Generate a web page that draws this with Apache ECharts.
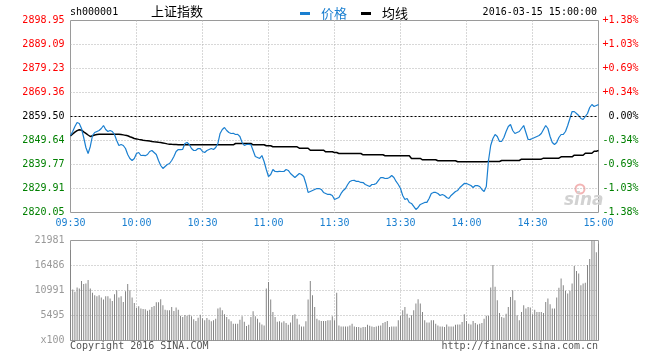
<!DOCTYPE html>
<html><head><meta charset="utf-8">
<script src="https://cdn.jsdelivr.net/npm/echarts@6/dist/echarts.min.js"></script>
<style>html,body{margin:0;padding:0;background:#fff}#c{width:660px;height:360px}</style>
</head><body><div id="c"></div>
<script>
const symbolCode = 'sh000001';
const indexName = '上证指数';
const stampText = '2016-03-15 15:00:00';
const copyrightText = 'Copyright 2016 SINA.COM';
const urlText = 'http://finance.sina.com.cn';
const prevClose = 2859.50;
const priceMin = 2820.05;
const priceMax = 2898.95;
const priceLabels = ['2898.95','2889.09','2879.23','2869.36','2859.50','2849.64','2839.77','2829.91','2820.05'];
const pctLabels = ['+1.38%','+1.03%','+0.69%','+0.34%','0.00%','-0.34%','-0.69%','-1.03%','-1.38%'];
const timeLabels = ['09:30','10:00','10:30','11:00','11:30','13:30','14:00','14:30','15:00'];
const volLabels = ['21981','16486','10991','5495','x100'];
const volMax = 21981;

const price = [
2851.69,2853.34,2855.39,2857.03,2856.62,2854.57,2850.87,2846.76,2844.30,2847.18,
2851.69,2852.93,2853.34,2853.75,2854.57,2855.80,2854.16,2853.34,2853.75,2853.34,
2852.10,2849.64,2847.59,2848.00,2847.59,2846.35,2843.89,2842.25,2841.42,2842.25,
2844.30,2844.71,2843.48,2843.52,2843.40,2843.89,2845.12,2845.53,2844.71,2843.89,
2841.42,2839.37,2838.14,2838.96,2839.78,2840.19,2841.42,2843.07,2845.12,2845.94,
2845.90,2846.02,2848.41,2848.82,2848.00,2846.35,2845.53,2845.60,2846.35,2846.30,
2845.12,2844.71,2845.53,2845.94,2846.35,2845.94,2846.76,2848.41,2852.52,2854.16,
2854.98,2853.75,2852.93,2852.52,2852.60,2852.10,2852.15,2851.28,2848.82,2847.59,
2848.00,2848.05,2847.95,2845.53,2843.07,2842.66,2842.25,2843.48,2841.01,2837.73,
2834.85,2835.67,2837.73,2836.91,2836.85,2836.95,2836.90,2836.91,2837.73,2837.32,
2836.08,2835.26,2834.44,2835.26,2836.08,2835.67,2834.85,2831.98,2828.28,2828.69,
2829.10,2829.51,2829.92,2829.90,2829.51,2828.28,2827.87,2827.46,2827.50,2827.05,
2825.40,
2825.81,2826.22,2827.87,2829.10,2829.92,2831.56,2832.80,2833.21,2833.25,2832.80,
2832.80,2832.39,2832.35,2831.56,2831.15,2830.74,2831.56,2831.60,2831.98,2833.21,
2834.44,2834.40,2834.03,2834.05,2834.44,2835.26,2834.44,2832.80,2831.56,2829.92,
2827.05,2825.40,2825.81,2824.17,2823.76,2822.53,2821.30,2822.12,2823.35,2823.76,
2824.17,2824.20,2825.81,2827.87,2828.28,2828.30,2827.87,2827.05,2827.46,2827.05,
2826.22,2825.81,2827.05,2827.87,2828.69,2829.10,2830.33,2831.15,2831.98,2831.95,
2831.56,2831.15,2830.33,2831.15,2831.10,2830.74,2829.51,2828.69,2830.74,2841.42,
2847.59,2850.46,2852.10,2851.28,2849.23,2849.30,2850.87,2853.34,2855.39,2856.21,
2853.75,2852.52,2852.93,2853.34,2854.57,2855.80,2852.93,2850.05,2850.10,2850.46,
2850.87,2851.28,2851.69,2852.52,2854.16,2855.80,2854.57,2851.28,2848.82,2848.00,
2848.82,2850.87,2852.10,2852.15,2853.34,2855.80,2858.68,2861.55,2861.50,2860.73,
2859.91,2858.68,2858.27,2859.50,2860.73,2863.20,2864.43,2863.61,2864.02,2864.37
];

const avg = [
2851.57,2852.30,2853.10,2853.70,2854.04,2853.90,2853.20,2852.60,2851.90,2851.28,
2851.57,2851.90,2852.10,2852.23,2852.23,2852.25,2852.25,2852.23,2852.23,2852.23,
2852.23,2852.23,2852.20,2852.10,2851.95,2851.75,2851.57,2851.20,2850.85,2850.46,
2850.30,2850.10,2849.95,2849.76,2849.65,2849.55,2849.40,2849.23,2849.10,2849.00,
2848.90,2848.82,2848.65,2848.45,2848.25,2848.12,2848.05,2848.00,2847.95,2847.90,
2847.87,2847.87,2847.87,2847.87,2847.87,2847.87,2847.87,2847.87,2847.87,2847.87,
2847.87,2847.87,2847.87,2847.87,2847.87,2847.87,2847.87,2847.87,2847.87,2847.87,
2847.87,2847.87,2847.87,2847.87,2847.87,2848.41,2848.41,2848.41,2848.41,2848.41,
2848.41,2848.41,2848.41,2847.87,2847.87,2847.87,2847.87,2847.87,2847.87,2847.46,
2847.46,2847.46,2847.05,2847.05,2847.05,2847.05,2847.05,2847.05,2847.05,2847.05,
2847.05,2847.05,2847.05,2847.05,2846.48,2846.48,2846.48,2846.48,2846.48,2845.65,
2845.65,2845.65,2845.65,2845.65,2845.65,2845.65,2845.00,2845.00,2845.00,2845.00,
2844.71,
2844.71,2844.30,2844.30,2844.30,2844.30,2844.30,2844.30,2844.30,2844.30,2844.30,
2844.30,2844.30,2843.77,2843.77,2843.77,2843.77,2843.77,2843.77,2843.77,2843.77,
2843.77,2843.77,2843.35,2843.35,2843.35,2843.35,2843.35,2843.35,2843.35,2843.35,
2843.35,2843.35,2843.35,2843.35,2842.25,2842.25,2842.25,2842.25,2842.25,2841.71,
2841.71,2841.71,2841.71,2841.71,2841.71,2841.71,2841.30,2841.30,2841.30,2841.30,
2841.30,2841.30,2841.30,2841.30,2841.30,2840.89,2840.89,2840.89,2840.89,2840.89,
2840.89,2840.89,2840.89,2840.89,2840.89,2840.89,2840.89,2840.89,2840.89,2841.01,
2841.01,2841.01,2841.01,2841.01,2841.01,2841.42,2841.42,2841.42,2841.42,2841.42,
2841.42,2841.42,2841.42,2841.42,2841.96,2841.96,2841.96,2841.96,2841.96,2841.96,
2841.96,2841.96,2841.96,2841.96,2842.37,2842.37,2842.37,2842.37,2842.37,2842.37,
2842.37,2842.37,2842.94,2842.94,2842.94,2842.94,2842.94,2842.94,2843.60,2843.60,
2843.60,2843.60,2843.60,2844.42,2844.42,2844.42,2844.42,2845.24,2845.24,2845.50
];

const volume = [
19915,11212,10695,11654,11433,13056,12392,12539,13277,11433,
10474,9958,9736,9958,9441,8999,9736,9736,9220,8704,
10179,11064,9441,9736,8483,10843,12392,11064,9441,8261,
7155,7524,7007,6933,6860,6565,6786,7376,7597,8409,
8409,9072,7745,6786,6638,6638,7376,6491,7228,6786,
5458,5163,5606,5458,5680,5311,4647,4278,5016,5680,
4868,4426,4942,4573,4204,4426,4794,7007,7228,6638,
5753,5163,4647,4204,3688,3688,3688,4573,5311,4131,
3172,3467,5163,6417,5311,4794,3983,3540,3319,11433,
12834,8999,6270,5163,4131,4204,3983,4204,3836,3467,
3983,5532,5753,4794,3540,3098,3098,4204,8999,13056,
9958,7376,4794,4426,4278,4278,4300,4426,4426,5311,
4426,
10474,3319,3098,3098,3098,3098,3319,3688,3098,2950,
2950,2803,2950,2950,3467,3245,3098,2950,3098,3245,
3319,3836,4057,4278,2950,3098,3098,3098,4426,5458,
6638,7376,5901,5016,5532,6638,8114,9072,8114,6270,
4426,3983,3983,4426,4426,3688,3319,3098,3098,2950,
3540,3098,3098,3098,3467,3540,3540,4057,5753,4278,
3688,3540,4278,3836,3540,3688,3836,4794,5458,5458,
11654,16596,11802,8851,6048,5163,5016,5901,7376,9589,
11064,8851,5532,4426,6270,7745,7007,7376,7228,5753,
6786,6270,6270,6270,6048,8483,9220,7966,7007,7007,
9441,11580,13646,12170,10916,10326,10916,12539,16375,15268,
14752,12170,12539,12687,16596,17924,21981,21981,19399,21243
];

const MONO = 'DejaVu Sans Mono';
const CJK = 'Noto Sans CJK SC';
const BLUE = '#1a7fd0';
const gridLine = {show: true, showMinLine: false, showMaxLine: false, lineStyle: {color: '#b0b0b0', type: [1, 2], width: 1}};
const richColors = {
  r: {color: '#ff0000', fontFamily: MONO, fontSize: 10},
  k: {color: '#000000', fontFamily: MONO, fontSize: 10},
  g: {color: '#008000', fontFamily: MONO, fontSize: 10}
};
function tone(v, txt) {
  const t = v > 4 ? 'r' : (v === 4 ? 'k' : 'g');
  return '{' + t + '|' + txt + '}';
}

const chart = echarts.init(document.getElementById('c'), null, {renderer: 'canvas'});
chart.setOption({
  animation: false,
  backgroundColor: '#ffffff',
  grid: [
    {left: 70.5, top: 20.5, width: 528, height: 192, show: true, borderColor: '#9a9a9a', borderWidth: 1},
    {left: 70.5, top: 240.5, width: 528, height: 100, show: true, borderColor: '#9a9a9a', borderWidth: 1}
  ],
  legend: {
    left: 295, top: 2, itemWidth: 10, itemHeight: 3, itemGap: 14, icon: 'rect', selectedMode: false,
    textStyle: {fontSize: 13, fontFamily: CJK, padding: [0, 0, 0, 6]},
    data: [
      {name: '价格', textStyle: {color: BLUE}},
      {name: '均线', textStyle: {color: '#000'}}
    ]
  },
  xAxis: [
    {gridIndex: 0, type: 'value', min: 0, max: 240, interval: 30,
     axisLine: {show: false}, axisTick: {show: false},
     axisLabel: {showMinLabel: true, showMaxLabel: true, formatter: v => timeLabels[Math.round(v / 30)], color: BLUE, fontFamily: MONO, fontSize: 10, margin: 6},
     splitLine: gridLine},
    {gridIndex: 1, type: 'value', min: 0, max: 240, interval: 30,
     axisLine: {show: false}, axisTick: {show: false}, axisLabel: {show: false},
     splitLine: gridLine}
  ],
  yAxis: [
    {gridIndex: 0, type: 'value', min: priceMin, max: priceMax, show: false},
    {gridIndex: 0, type: 'value', position: 'left', min: 0, max: 8, interval: 1,
     axisLine: {show: false}, axisTick: {show: false},
     axisLabel: {showMinLabel: true, showMaxLabel: true, margin: 6, formatter: v => tone(v, priceLabels[8 - v]), rich: richColors},
     splitLine: gridLine},
    {gridIndex: 0, type: 'value', position: 'right', min: 0, max: 8, interval: 1,
     axisLine: {show: false}, axisTick: {show: false},
     axisLabel: {showMinLabel: true, showMaxLabel: true, margin: 40, align: 'right', formatter: v => tone(v, pctLabels[8 - v]), rich: richColors},
     splitLine: {show: false}},
    {gridIndex: 1, type: 'value', min: 0, max: volMax, show: false},
    {gridIndex: 1, type: 'value', position: 'left', min: 0, max: 4, interval: 1,
     axisLine: {show: false}, axisTick: {show: false},
     axisLabel: {showMinLabel: true, showMaxLabel: true, margin: 6, formatter: v => volLabels[4 - v], color: '#999999', fontFamily: MONO, fontSize: 10},
     splitLine: gridLine}
  ],
  series: [
    {name: '价格', type: 'line', xAxisIndex: 0, yAxisIndex: 0, showSymbol: false, symbol: 'none',
     data: price.map((v, i) => [i, v]), lineStyle: {color: BLUE, width: 1.2}, itemStyle: {color: BLUE}, z: 3,
     markLine: {symbol: 'none', silent: true, label: {show: false}, lineStyle: {color: '#000', type: [2, 2], width: 1},
       data: [{yAxis: prevClose}]}},
    {name: '均线', type: 'line', xAxisIndex: 0, yAxisIndex: 0, showSymbol: false, symbol: 'none',
     data: avg.map((v, i) => [i, v]), lineStyle: {color: '#000', width: 1.5}, itemStyle: {color: '#000'}, z: 2},
    {name: '成交量', type: 'bar', xAxisIndex: 1, yAxisIndex: 3, barWidth: 1,
     data: volume.map((v, i) => [i, v]), itemStyle: {color: '#858585'}}
  ],
  graphic: [
    {type: 'text', left: 70, top: 7, style: {text: symbolCode, font: '10px "DejaVu Sans Mono"', fill: '#000'}},
    {type: 'text', left: 151, top: 5, style: {text: indexName, font: '13px "Noto Sans CJK SC"', fill: '#000'}},
    {type: 'text', right: 63, top: 7, style: {text: stampText, font: '10px "DejaVu Sans Mono"', fill: '#000'}},
    {type: 'text', left: 70, top: 341, style: {text: copyrightText, font: '10px "DejaVu Sans Mono"', fill: '#555'}},
    {type: 'text', right: 62, top: 341, style: {text: urlText, font: '10px "DejaVu Sans Mono"', fill: '#555'}},
    {type: 'circle', shape: {cx: 580, cy: 189, r: 4.5}, style: {fill: 'none', stroke: '#f3b4b4', lineWidth: 2}, silent: true},
    {type: 'text', left: 564, top: 192, style: {text: 'sina', font: 'italic bold 17px "DejaVu Sans"', fill: '#d2d2d2'}, silent: true}
  ]
});
</script></body></html>
